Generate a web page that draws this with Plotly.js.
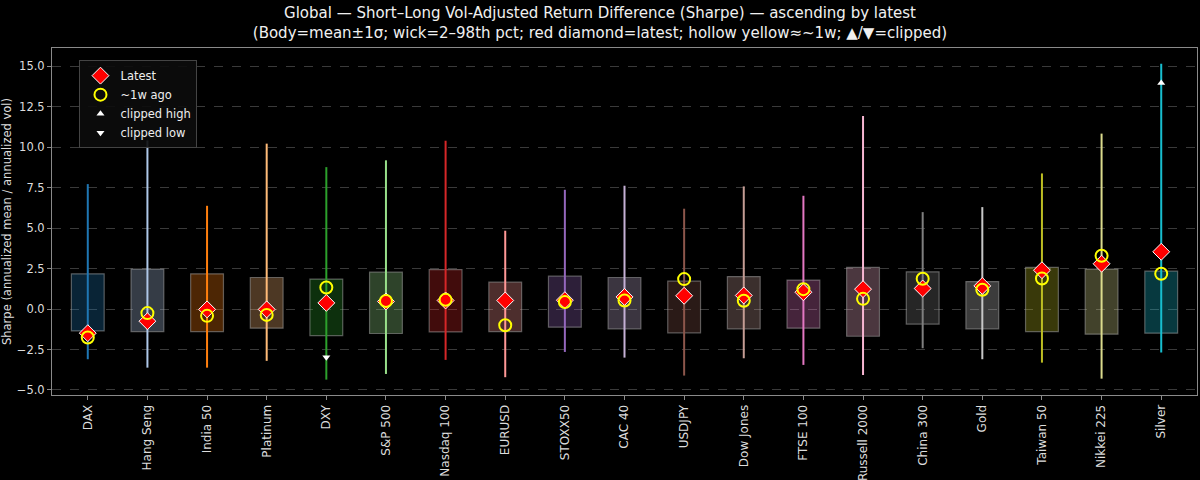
<!DOCTYPE html>
<html>
<head>
<meta charset="utf-8">
<script src="https://cdn.plot.ly/plotly-3.0.1.min.js"></script>
<style>html,body{margin:0;padding:0;background:#000;}#chart{width:1200px;height:480px;}</style>
</head>
<body>
<div id="chart"></div>
<script>
var categories = ["DAX","Hang Seng","India 50","Platinum","DXY","S&P 500","Nasdaq 100","EURUSD","STOXX50","CAC 40","USDJPY","Dow Jones","FTSE 100","Russell 2000","China 300","Gold","Taiwan 50","Nikkei 225","Silver"];
var bodyHi = [2.18,2.47,2.18,1.95,1.85,2.28,2.44,1.66,2.03,1.95,1.72,2.01,1.79,2.57,2.30,1.70,2.57,2.47,2.34];
var bodyLo = [-1.35,-1.39,-1.39,-1.18,-1.64,-1.51,-1.41,-1.39,-1.12,-1.22,-1.47,-1.22,-1.18,-1.68,-0.93,-1.22,-1.39,-1.55,-1.49];
var wickHi = [7.72,10.42,6.38,10.22,8.77,9.19,10.40,4.84,7.37,7.62,6.20,7.58,7.00,11.93,5.99,6.30,8.38,10.84,15.15];
var wickLo = [-3.10,-3.62,-3.62,-3.20,-4.36,-4.01,-3.14,-4.21,-2.65,-3.00,-4.11,-3.04,-3.45,-4.07,-2.42,-3.10,-3.31,-4.30,-2.69];
var latest = [-1.49,-0.75,-0.02,-0.02,0.38,0.47,0.53,0.53,0.55,0.75,0.82,0.84,1.04,1.23,1.27,1.43,2.40,2.80,3.54];
var weekAgo = [-1.76,-0.25,-0.42,-0.36,1.33,0.50,0.57,-1.00,0.43,0.53,1.85,0.51,1.23,0.63,1.87,1.19,1.89,3.29,2.18];
var clipHighCats = ["Silver"];
var clipHighVals = [13.97];
var clipLowCats = ["DXY"];
var clipLowVals = [-2.98];
var colors = ["#1f77b4","#aec7e8","#ff7f0e","#ffbb78","#2ca02c","#98df8a","#d62728","#ff9896","#9467bd","#c5b0d5","#8c564b","#c49c94","#e377c2","#f7b6d2","#7f7f7f","#c7c7c7","#bcbd22","#dbdb8d","#17becf"];
var yTicks = [-5,-2.5,0,2.5,5,7.5,10,12.5,15];

function rgba(hex, a){
  var r=parseInt(hex.substr(1,2),16), g=parseInt(hex.substr(3,2),16), b=parseInt(hex.substr(5,2),16);
  return "rgba("+r+","+g+","+b+","+a+")";
}

var traces = [];
traces.push({
  type:"bar", x:categories,
  y:bodyHi.map(function(h,i){return h-bodyLo[i];}),
  base:bodyLo, width:0.55,
  marker:{color:colors.map(function(c){return rgba(c,0.3);}), line:{color:"rgba(170,170,170,0.5)", width:1.2}},
  showlegend:false, hoverinfo:"skip"
});
categories.forEach(function(c,i){
  traces.push({
    type:"scatter", mode:"lines", x:[c,c], y:[wickLo[i],wickHi[i]],
    line:{color:colors[i], width:2}, showlegend:false, hoverinfo:"skip"
  });
});
traces.push({
  type:"scatter", mode:"markers", x:categories, y:latest, name:"Latest",
  marker:{symbol:"diamond", size:13, color:"#ff0000", line:{color:"#ffffff", width:1}}
});
traces.push({
  type:"scatter", mode:"markers", x:categories, y:weekAgo, name:"~1w ago",
  marker:{symbol:"circle-open", size:12, color:"#ffff00", line:{color:"#ffff00", width:2}}
});
traces.push({
  type:"scatter", mode:"markers", x:clipHighCats, y:clipHighVals, name:"clipped high",
  marker:{symbol:"triangle-up", size:7, color:"#ffffff"}
});
traces.push({
  type:"scatter", mode:"markers", x:clipLowCats, y:clipLowVals, name:"clipped low",
  marker:{symbol:"triangle-down", size:7, color:"#ffffff"}
});

var layout = {
  width:1200, height:480,
  paper_bgcolor:"#000000", plot_bgcolor:"#000000",
  font:{family:"DejaVu Sans, sans-serif", color:"#dddddd", size:11},
  margin:{l:52, r:3, t:48, b:85},
  title:{text:"Global — Short–Long Vol-Adjusted Return Difference (Sharpe) — ascending by latest<br>(Body=mean±1σ; wick=2–98th pct; red diamond=latest; hollow yellow≈~1w; ▲/▼=clipped)",
    font:{size:15, color:"#f0f0f0", family:"DejaVu Sans, sans-serif"}, x:0.5, xanchor:"center", yref:"container", y:0.962, yanchor:"top"},
  xaxis:{type:"category", range:[-0.6,18.6], tickangle:-90, showgrid:false, zeroline:false,
    showline:true, mirror:true, linecolor:"#8a8a8a", linewidth:1,
    ticks:"outside", ticklen:4, tickcolor:"#8a8a8a", tickfont:{size:12, color:"#dddddd"}},
  yaxis:{range:[-5.31,16.13], tickvals:yTicks, tickformat:".1f", zeroline:false,
    showgrid:true, gridcolor:"#3a3a3a", griddash:"dash", gridwidth:1,
    showline:true, mirror:true, linecolor:"#8a8a8a", linewidth:1,
    ticks:"outside", ticklen:4, tickcolor:"#8a8a8a", tickfont:{size:11.5, color:"#dddddd"},
    title:{text:"Sharpe (annualized mean / annualized vol)", font:{size:11.5, color:"#dddddd"}, standoff:6}},
  legend:{x:0.024, y:0.965, xanchor:"left", yanchor:"top", bgcolor:"rgba(12,12,12,0.9)",
    bordercolor:"#444444", borderwidth:1, font:{size:11.5, color:"#eeeeee"}, tracegroupgap:0},
  showlegend:true, bargap:0
};

Plotly.newPlot("chart", traces, layout, {displayModeBar:false, staticPlot:true});
</script>
</body>
</html>
